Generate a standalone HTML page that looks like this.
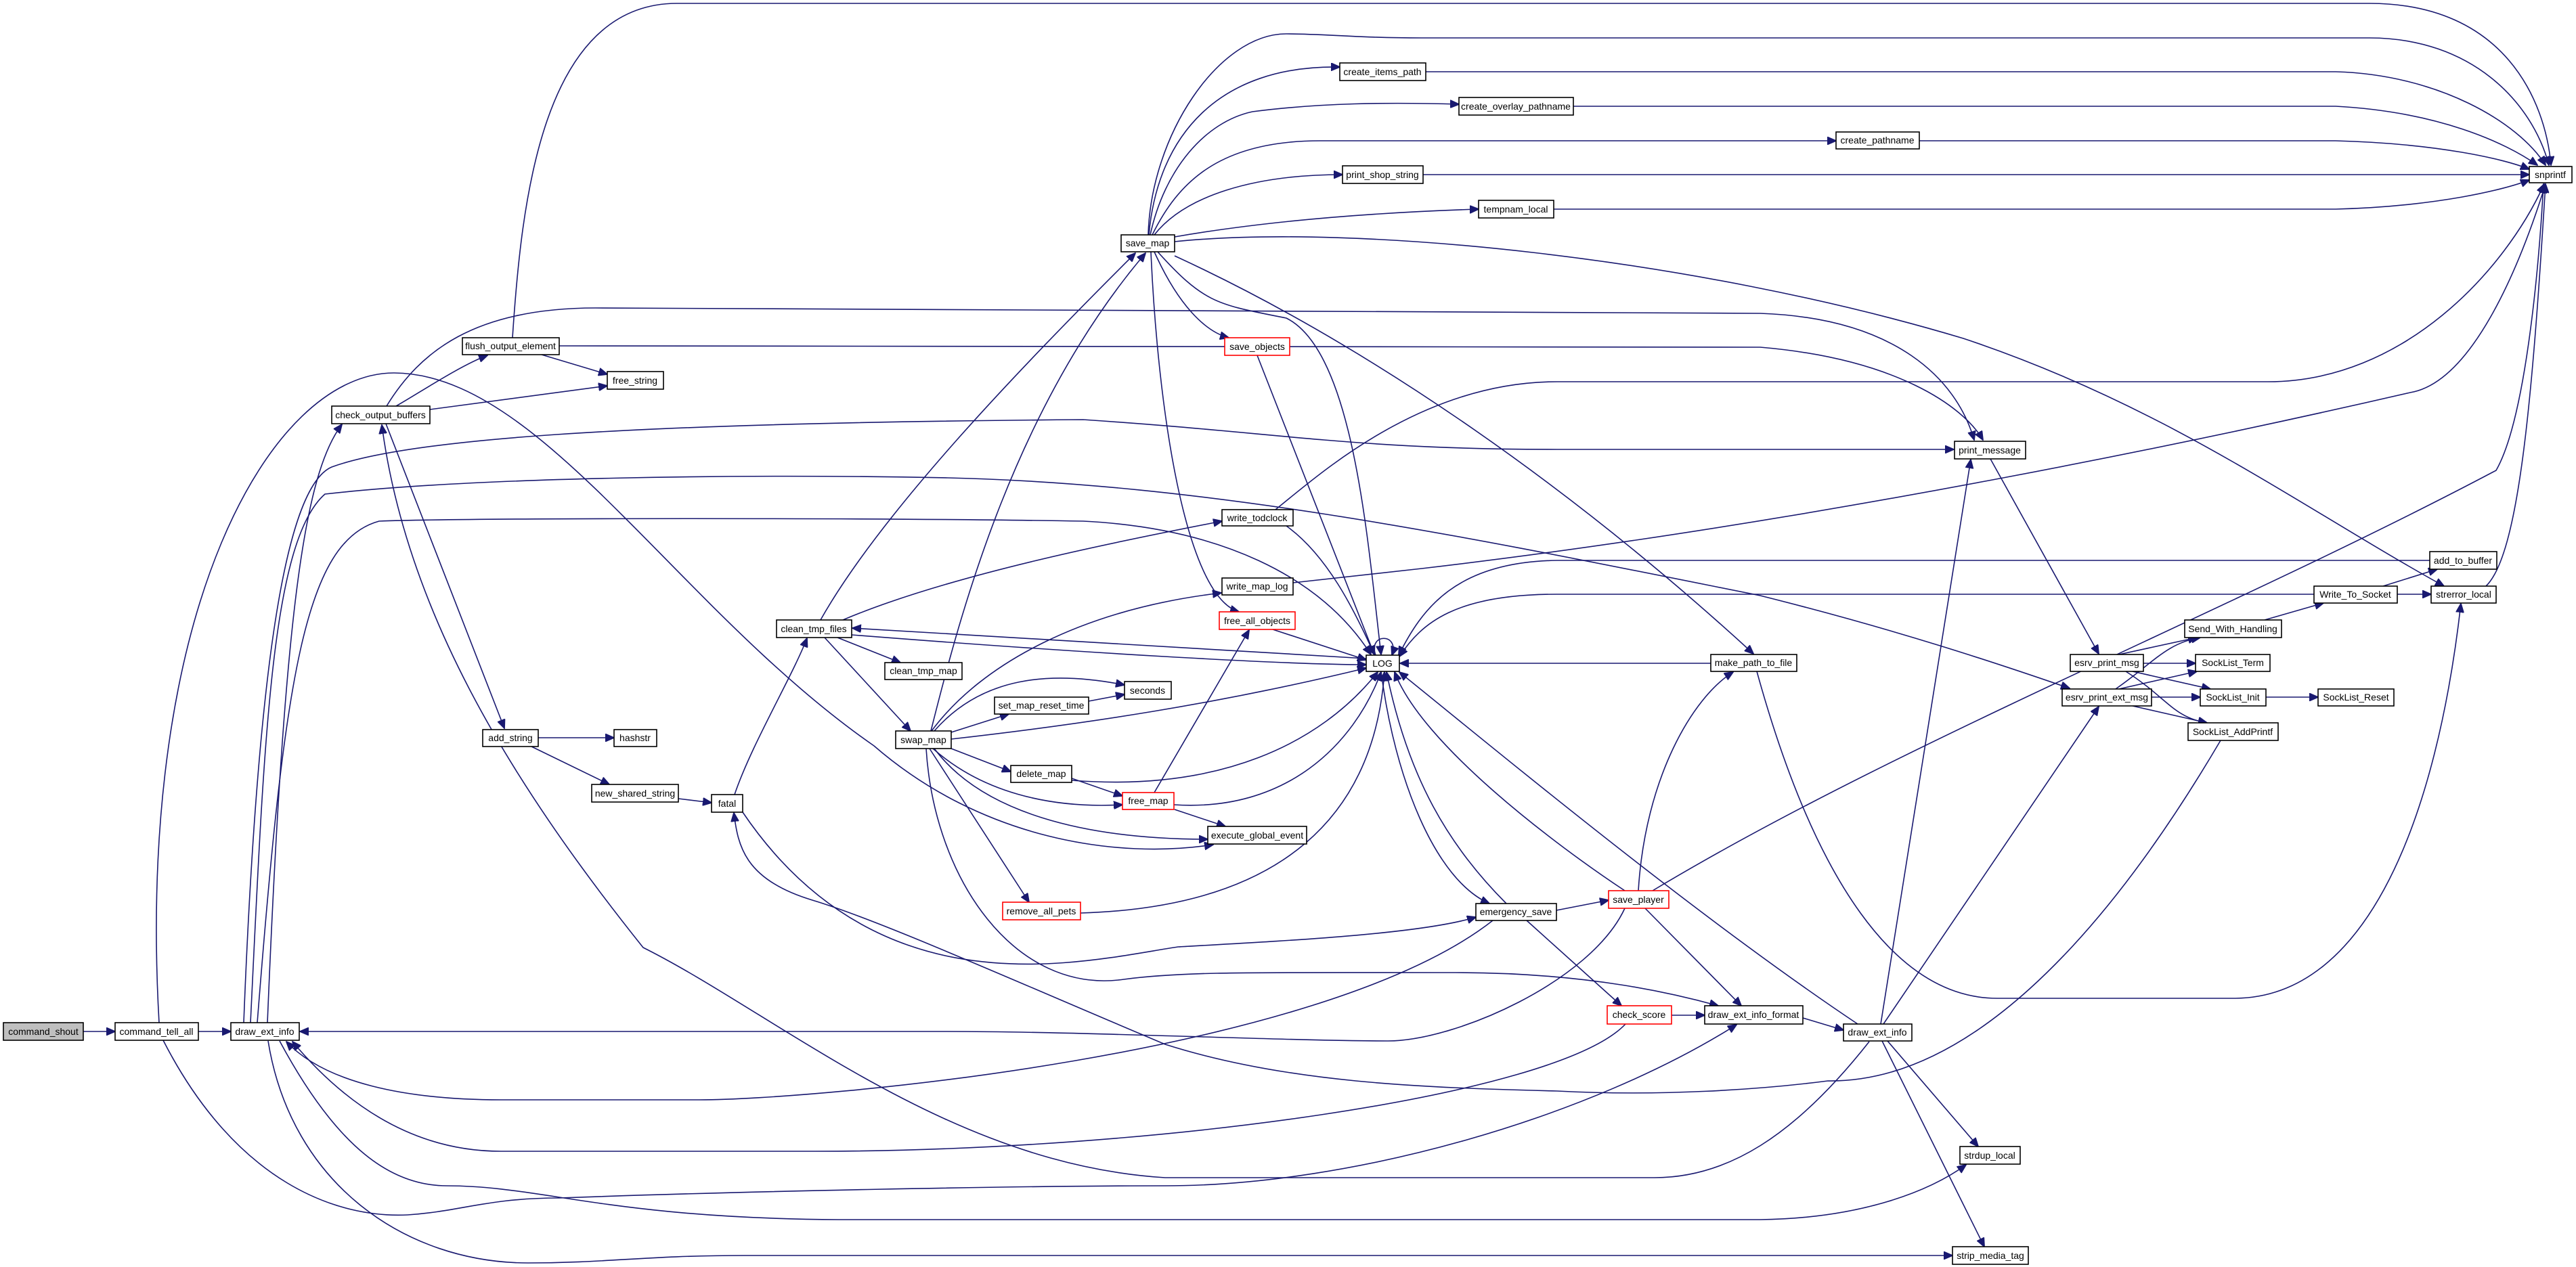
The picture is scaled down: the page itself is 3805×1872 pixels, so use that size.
<!DOCTYPE html>
<html><head><meta charset="utf-8"><style>
html,body{margin:0;padding:0;background:#fff;}
svg{display:block;}
text{font-family:"Liberation Sans",Arial,sans-serif;font-size:14px;fill:#000;text-anchor:middle;dominant-baseline:central;}
path{fill:none;stroke:#191970;stroke-width:1.6;}
rect{fill:#fff;stroke:#000;stroke-width:1.6;}
rect.r{stroke:#ff0000;}
rect.g{fill:#bfbfbf;}
</style></head><body>
<svg width="3805" height="1872" viewBox="0 0 3805 1872" xmlns="http://www.w3.org/2000/svg">
<defs><marker id="a" markerUnits="userSpaceOnUse" markerWidth="14" markerHeight="12" refX="13" refY="6" orient="auto"><path d="M0,0 L14,6 L0,12 Z" style="fill:#191970;stroke:#191970;stroke-width:1"/></marker></defs>
<g marker-end="url(#a)">
<path d="M123,1524 L170,1524"/>
<path d="M293,1524 L341,1524"/>
<path d="M235,1511 C200,900 400,551 582,551 C800,552 1000,900 1291,1102 C1450,1240 1650,1270 1792,1248"/>
<path d="M395,1511 C420,900 450,700 505,627"/>
<path d="M826,511 L2600,513 C2800,530 2900,600 2929,650"/>
<path d="M571,600 C620,520 700,455 880,455 L2600,463 C2800,470 2890,560 2916,650"/>
<path d="M757,499 C770,300 800,5 1000,5 L3500,5 C3700,5 3760,150 3768,244"/>
<path d="M800,524 L897,553"/>
<path d="M635,605 L897,570"/>
<path d="M585,600 C620,580 680,540 720,525"/>
<path d="M570,626 L745,1076"/>
<path d="M795,1090 L907,1090"/>
<path d="M785,1103 L900,1159"/>
<path d="M1002,1180 L1051,1186"/>
<path d="M1085,1174 C1110,1100 1170,1000 1192,943"/>
<path d="M1097,1200 C1300,1500 1600,1420 1740,1399 C1900,1390 2100,1380 2180,1355"/>
<path d="M1212,916 C1300,760 1500,550 1677,374"/>
<path d="M1375,1080 C1420,900 1500,600 1692,374"/>
<path d="M1245,916 C1400,850 1650,800 1805,770"/>
<path d="M1237,942 L1330,979"/>
<path d="M1218,942 L1345,1080"/>
<path d="M1258,938 C1600,965 1900,982 2018,982"/>
<path d="M2018,973 L1259,928"/>
<path d="M1376,1080 C1450,980 1600,900 1804,876"/>
<path d="M1405,1082 L1490,1055"/>
<path d="M1608,1036 L1661,1026"/>
<path d="M1380,1080 C1450,1000 1550,990 1661,1012"/>
<path d="M1405,1092 C1600,1070 1800,1040 2018,987"/>
<path d="M1405,1106 L1493,1140"/>
<path d="M1378,1106 C1450,1170 1550,1195 1658,1189"/>
<path d="M1380,1106 C1450,1200 1600,1240 1784,1240"/>
<path d="M1373,1106 L1520,1333"/>
<path d="M1368,1106 C1380,1300 1500,1470 1660,1447 C1750,1435 1850,1437 2150,1437 C2350,1437 2480,1470 2538,1486"/>
<path d="M1583,1150 L1658,1176"/>
<path d="M1583,1153 C1800,1170 1950,1100 2035,993"/>
<path d="M1705,1171 L1845,931"/>
<path d="M1735,1196 L1810,1221"/>
<path d="M1734,1189 C1900,1200 2000,1100 2040,993"/>
<path d="M1596,1349 C1900,1340 2030,1200 2045,993"/>
<path d="M1900,777 C1960,820 2000,900 2030,967"/>
<path d="M1910,861 L2100,840 C2700,770 3300,640 3560,580 C3650,565 3720,400 3760,272"/>
<path d="M1884,753 C1950,700 2100,564 2300,564 L3350,564 C3550,564 3700,400 3758,272"/>
<path d="M360,1511 C380,1000 420,720 490,690 C600,650 900,625 1600,620 C1900,640 2000,664 2300,664 L2886,664"/>
<path d="M1696,347 C1700,200 1800,50 1900,50 C1960,50 2000,56 2100,56 L3500,56 C3650,56 3740,150 3765,244"/>
<path d="M1697,347 C1710,200 1800,96 1979,99"/>
<path d="M1699,347 C1720,250 1780,180 1850,165 C1950,152 2050,151 2155,154"/>
<path d="M1702,347 C1740,270 1800,208 1950,208 L2712,208"/>
<path d="M1705,347 C1750,290 1850,258 1983,258"/>
<path d="M1735,350 C1850,330 2000,315 2184,309"/>
<path d="M1705,372 C1740,450 1780,490 1815,499"/>
<path d="M1700,372 C1710,600 1750,880 1830,904"/>
<path d="M1710,372 C1780,450 1800,450 1900,470 C2000,520 2020,800 2040,967"/>
<path d="M1735,378 C2000,500 2300,700 2590,966"/>
<path d="M1735,357 C2000,330 2500,380 2900,500 C3200,600 3400,750 3610,866"/>
<path d="M1857,525 L2030,967"/>
<path d="M2032,968 C2020,935 2068,935 2056,968"/>
<path d="M2040,992 C2060,1150 2120,1300 2200,1335"/>
<path d="M2225,1335 C2140,1250 2080,1150 2048,993"/>
<path d="M2527,980 L2068,980"/>
<path d="M2595,992 C2680,1300 2800,1475 2950,1475 L3300,1475 C3500,1475 3600,1200 3635,892"/>
<path d="M3418,878 L2300,878 C2150,878 2100,920 2067,970"/>
<path d="M3589,828 L2300,828 C2150,830 2100,900 2066,968"/>
<path d="M370,1511 C390,1100 400,800 480,730 C700,705 1100,700 1400,706 C1800,715 2200,800 2600,880 C2800,930 2950,980 3057,1017"/>
<path d="M380,1511 C420,1000 450,800 560,770 C700,765 1300,765 1600,770 C1800,780 1950,850 2025,967"/>
<path d="M1880,930 L2018,975"/>
<path d="M2299,1345 L2376,1330"/>
<path d="M2255,1360 L2395,1486"/>
<path d="M2205,1360 C1950,1560 1200,1625 1033,1625 L740,1625 C600,1625 480,1600 423,1539"/>
<path d="M2400,1342 C2350,1450 2150,1538 2050,1538 C1900,1538 1600,1524 1400,1524 L443,1524"/>
<path d="M2401,1513 C2300,1620 1700,1701 1205,1701 L740,1701 C600,1701 500,1620 432,1539"/>
<path d="M2420,1316 C2430,1150 2500,1030 2560,993"/>
<path d="M2400,1316 C2300,1250 2100,1100 2060,993"/>
<path d="M2441,1316 C2800,1100 3300,900 3687,695 C3730,620 3750,400 3757,272"/>
<path d="M2430,1342 L2572,1486"/>
<path d="M2469,1500 L2518,1500"/>
<path d="M2663,1504 L2723,1522"/>
<path d="M2744,1513 C2500,1350 2200,1100 2067,993"/>
<path d="M2778,1513 L2911,679"/>
<path d="M2782,1513 L3100,1044"/>
<path d="M2761,1539 C2650,1680 2550,1740 2444,1740 L1721,1740 C1400,1720 1150,1500 950,1400 C750,1150 600,900 564,628"/>
<path d="M3280,1094 C3100,1400 2900,1600 2700,1597 C2600,1610 2450,1620 2300,1612 C2100,1607 1900,1600 1721,1543 C1500,1450 1300,1360 1200,1330 C1100,1300 1090,1250 1084,1201"/>
<path d="M2788,1538 L2922,1694"/>
<path d="M2780,1538 L2931,1842"/>
<path d="M413,1538 C500,1700 580,1752 660,1752 C800,1752 900,1800 1239,1802 L2600,1802 C2750,1800 2850,1760 2904,1721"/>
<path d="M241,1537 C350,1750 500,1800 602,1795 C680,1790 720,1770 826,1770 C1100,1760 1500,1752 1721,1752 C2000,1752 2350,1650 2565,1514"/>
<path d="M396,1538 C430,1750 600,1866 780,1866 C900,1866 950,1855 1100,1855 L2884,1855"/>
<path d="M2940,678 L3100,966"/>
<path d="M3130,967 L3245,942"/>
<path d="M3166,980 L3243,980"/>
<path d="M3150,992 L3265,1018"/>
<path d="M3140,992 C3200,1030 3210,1060 3260,1068"/>
<path d="M3125,1018 C3180,980 3200,950 3250,942"/>
<path d="M3130,1018 L3245,992"/>
<path d="M3178,1030 L3250,1030"/>
<path d="M3150,1043 L3260,1068"/>
<path d="M3347,1030 L3424,1030"/>
<path d="M3345,916 L3432,891"/>
<path d="M3520,866 L3600,841"/>
<path d="M3541,878 L3591,878"/>
<path d="M3672,866 C3720,820 3740,600 3760,272"/>
<path d="M2106,106 L3450,106 C3600,110 3720,180 3760,244"/>
<path d="M2324,157 L3450,157 C3600,165 3700,210 3748,244"/>
<path d="M2835,208 L3450,208 C3600,212 3700,235 3736,250"/>
<path d="M2102,258 L3736,258"/>
<path d="M2295,309 L3450,309 C3600,305 3700,280 3736,266"/>
</g>
<g>
<rect class="g" x="5" y="1511" width="118" height="26"/><text x="64" y="1524">command_shout</text>
<rect x="170" y="1511" width="123" height="26"/><text x="231" y="1524">command_tell_all</text>
<rect x="341" y="1511" width="101" height="26"/><text x="391" y="1524">draw_ext_info</text>
<rect x="490" y="600" width="145" height="26"/><text x="562" y="613">check_output_buffers</text>
<rect x="683" y="499" width="143" height="25"/><text x="754" y="511">flush_output_element</text>
<rect x="897" y="549" width="83" height="26"/><text x="938" y="562">free_string</text>
<rect x="713" y="1078" width="82" height="25"/><text x="754" y="1090">add_string</text>
<rect x="907" y="1078" width="63" height="25"/><text x="938" y="1090">hashstr</text>
<rect x="874" y="1159" width="128" height="26"/><text x="938" y="1172">new_shared_string</text>
<rect x="1051" y="1174" width="46" height="26"/><text x="1074" y="1187">fatal</text>
<rect x="1147" y="916" width="111" height="26"/><text x="1202" y="929">clean_tmp_files</text>
<rect x="1307" y="979" width="114" height="25"/><text x="1364" y="991">clean_tmp_map</text>
<rect x="1323" y="1080" width="82" height="26"/><text x="1364" y="1093">swap_map</text>
<rect x="1656" y="347" width="79" height="25"/><text x="1695" y="359">save_map</text>
<rect x="1469" y="1030" width="139" height="25"/><text x="1538" y="1042">set_map_reset_time</text>
<rect x="1661" y="1007" width="69" height="26"/><text x="1695" y="1020">seconds</text>
<rect x="1493" y="1131" width="90" height="25"/><text x="1538" y="1143">delete_map</text>
<rect class="r" x="1658" y="1171" width="76" height="25"/><text x="1696" y="1183">free_map</text>
<rect x="1784" y="1221" width="146" height="26"/><text x="1857" y="1234">execute_global_event</text>
<rect class="r" x="1481" y="1333" width="115" height="26"/><text x="1538" y="1346">remove_all_pets</text>
<rect x="1805" y="753" width="105" height="24"/><text x="1857" y="765">write_todclock</text>
<rect x="1805" y="854" width="105" height="25"/><text x="1857" y="866">write_map_log</text>
<rect class="r" x="1801" y="904" width="112" height="26"/><text x="1857" y="917">free_all_objects</text>
<rect class="r" x="1809" y="499" width="96" height="26"/><text x="1857" y="512">save_objects</text>
<rect x="2018" y="968" width="49" height="24"/><text x="2042" y="980">LOG</text>
<rect x="1979" y="93" width="127" height="26"/><text x="2042" y="106">create_items_path</text>
<rect x="2155" y="144" width="169" height="26"/><text x="2239" y="157">create_overlay_pathname</text>
<rect x="2712" y="195" width="123" height="25"/><text x="2773" y="207">create_pathname</text>
<rect x="1983" y="245" width="119" height="26"/><text x="2042" y="258">print_shop_string</text>
<rect x="2184" y="296" width="111" height="26"/><text x="2239" y="309">tempnam_local</text>
<rect x="2887" y="652" width="105" height="26"/><text x="2939" y="665">print_message</text>
<rect x="2527" y="967" width="127" height="25"/><text x="2590" y="979">make_path_to_file</text>
<rect x="2180" y="1335" width="119" height="25"/><text x="2239" y="1347">emergency_save</text>
<rect class="r" x="2376" y="1316" width="89" height="26"/><text x="2420" y="1329">save_player</text>
<rect class="r" x="2374" y="1486" width="95" height="27"/><text x="2421" y="1499">check_score</text>
<rect x="2518" y="1486" width="145" height="27"/><text x="2590" y="1499">draw_ext_info_format</text>
<rect x="2723" y="1513" width="101" height="25"/><text x="2773" y="1525">draw_ext_info</text>
<rect x="3058" y="967" width="108" height="25"/><text x="3112" y="979">esrv_print_msg</text>
<rect x="3046" y="1018" width="132" height="25"/><text x="3112" y="1030">esrv_print_ext_msg</text>
<rect x="3227" y="916" width="143" height="26"/><text x="3298" y="929">Send_With_Handling</text>
<rect x="3243" y="967" width="110" height="25"/><text x="3298" y="979">SockList_Term</text>
<rect x="3250" y="1018" width="97" height="25"/><text x="3298" y="1030">SockList_Init</text>
<rect x="3424" y="1018" width="112" height="25"/><text x="3480" y="1030">SockList_Reset</text>
<rect x="3232" y="1068" width="133" height="26"/><text x="3298" y="1081">SockList_AddPrintf</text>
<rect x="3418" y="866" width="123" height="25"/><text x="3479" y="878">Write_To_Socket</text>
<rect x="3589" y="815" width="99" height="26"/><text x="3638" y="828">add_to_buffer</text>
<rect x="3591" y="866" width="96" height="25"/><text x="3639" y="878">strerror_local</text>
<rect x="3736" y="246" width="63" height="24"/><text x="3767" y="258">snprintf</text>
<rect x="2895" y="1694" width="89" height="26"/><text x="2939" y="1707">strdup_local</text>
<rect x="2884" y="1842" width="112" height="26"/><text x="2940" y="1855">strip_media_tag</text>
</g>
</svg>
</body></html>
